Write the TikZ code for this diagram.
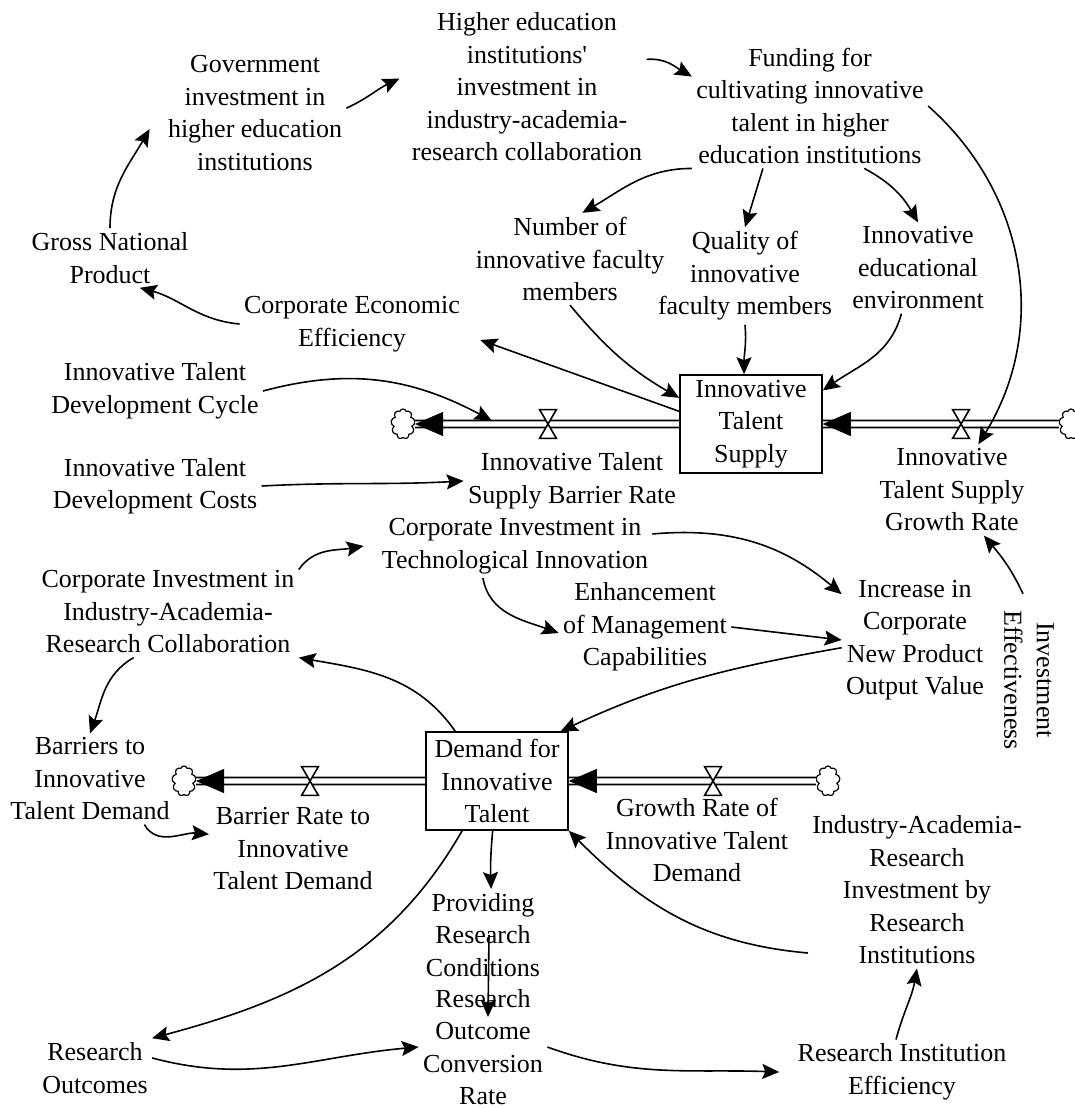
\documentclass[tikz,border=0pt]{standalone}
\usepackage{fontspec}
\setmainfont{Liberation Serif}
\usetikzlibrary{arrows.meta,shapes.symbols}

\begin{document}
\begin{tikzpicture}[x=0.5pt,y=0.5pt,
	font=\fontsize{13}{16.25}\selectfont,
	var/.style={align=center,inner sep=2pt},
	stock/.style={draw,line width=0.8pt,align=center,minimum width=71pt,minimum height=49pt,inner sep=2pt},
	sink/.style={cloud,cloud puffs=9,aspect=0.8,draw,line width=0.6pt,minimum width=12pt,minimum height=15pt,inner sep=0pt},
	valve/.style={inner sep=0pt,minimum width=8pt,minimum height=14pt},
	bowtie/.style={draw,fill=white,line width=0.8pt},
	link/.style={-{Stealth[length=8.5pt,width=7.5pt,inset=1.5pt]},line width=0.8pt},
	pipe/.style={double,double distance=2.6pt,line width=0.85pt},
	flowhead/.style={-{Triangle[length=14pt,width=12pt,color=black]},white,line width=0.4pt}]
	\useasboundingbox (0,0) rectangle (1075,-1108);

	\node[var] (hei) at (527,-87) {Higher education\\institutions\textquotesingle\\investment in\\industry-academia-\\research collaboration};
	\node[var] (gov) at (255,-113) {Government\\investment in\\higher education\\institutions};
	\node[var] (fund) at (810,-106) {Funding for\\cultivating innovative\\talent in higher\\education institutions};
	\node[var] (gnp) at (110,-258) {Gross National\\Product};
	\node[var] (num) at (570,-259) {Number of\\innovative faculty\\members};
	\node[var] (qual) at (745,-276) {Quality of\\innovative\\faculty members};
	\node[var] (env) at (918,-268) {Innovative\\educational\\environment};
	\node[var] (cee) at (352,-324) {Corporate Economic\\Efficiency};
	\node[var] (cycle) at (155,-391) {Innovative Talent\\Development Cycle};
	\node[var] (costs) at (155,-486) {Innovative Talent\\Development Costs};
	\node[stock] (supply) at (751,-424) {Innovative\\Talent\\Supply};
	\node[sink] (cldA) at (403,-424) {};
	\node[sink] (cldB) at (1071,-424) {};
	\node[valve] (vA) at (548,-424) {};
	\node[valve] (vB) at (961,-424) {};
	\node[var] (sbr) at (572,-481) {Innovative Talent\\Supply Barrier Rate};
	\node[var] (sgr) at (952,-490) {Innovative\\Talent Supply\\Growth Rate};
	\node[var] (cit) at (515,-546) {Corporate Investment in\\Technological Innovation};
	\node[var] (ciar) at (168,-612) {Corporate Investment in\\Industry-Academia-\\Research Collaboration};
	\node[var] (mgmt) at (645,-627) {Enhancement\\of Management\\Capabilities};
	\node[var] (npov) at (915,-640) {Increase in\\Corporate\\New Product\\Output Value};
	\node[var,rotate=-90] (ieff) at (1029,-680) {Investment\\Effectiveness};
	\node[var] (bar) at (90,-779) {Barriers to\\Innovative\\Talent Demand};
	\node[stock] (demand) at (497,-781) {Demand for\\Innovative\\Talent};
	\node[sink] (cldC) at (184,-781) {};
	\node[sink] (cldD) at (828,-781) {};
	\node[valve] (vC) at (310,-781) {};
	\node[valve] (vD) at (713,-781) {};
	\node[var] (dbr) at (293,-849) {Barrier Rate to\\Innovative\\Talent Demand};
	\node[var] (dgr) at (697,-840) {Growth Rate of\\Innovative Talent\\Demand};
	\node[var] (rinv) at (917,-890) {Industry-Academia-\\Research\\Investment by\\Research\\Institutions};
	\node[var] (cond) at (483,-935) {Providing\\Research\\Conditions};
	\node[var] (conv) at (483,-1047) {Research\\Outcome\\Conversion\\Rate};
	\node[var] (rout) at (95,-1068) {Research\\Outcomes};
	\node[var] (reff) at (902,-1072) {Research Institution\\Efficiency};

	% flows
	\draw[pipe] (supply) -- (cldA);
	\draw[flowhead] (vA) -- (cldA);
	\draw[pipe] (cldB) -- (supply);
	\draw[flowhead] (vB) -- (supply);
	\draw[pipe] (demand) -- (cldC);
	\draw[flowhead] (vC) -- (cldC);
	\draw[pipe] (cldD) -- (demand);
	\draw[flowhead] (vD) -- (demand);
	\draw[bowtie] (vA.north west) -- (vA.north east) -- (vA.south west) -- (vA.south east) -- cycle;
	\draw[bowtie] (vB.north west) -- (vB.north east) -- (vB.south west) -- (vB.south east) -- cycle;
	\draw[bowtie] (vC.north west) -- (vC.north east) -- (vC.south west) -- (vC.south east) -- cycle;
	\draw[bowtie] (vD.north west) -- (vD.north east) -- (vD.south west) -- (vD.south east) -- cycle;

	% links
	\draw[link] (gnp.north) to[out=90,in=240] ([xshift=-7pt]gov.190);
	\draw[link] (gov.3) to[out=25,in=205] ([xshift=-4pt]hei.176);
	\draw[link] (hei.13) to[out=5,in=150] (fund.166);
	\draw[link] (fund.south west) to[out=180,in=30] (num.75);
	\draw[link] (fund.233) -- (qual.north);
	\draw[link] (fund.311) to[out=-28,in=120] (env.north);
	\draw[link] (fund.east) to[bend left=40] (sgr.60);
	\draw[link] (num.south) to[out=-50,in=150] (supply.160);
	\draw[link] (qual.south) to[out=-85,in=90] (supply.98);
	\draw[link] (env.250) to[out=-105,in=35] (supply.25);
	\draw[link] (supply.170) -- ([shift={(8pt,-8pt)}]cee.east);
	\draw[link] (cee.west) to[out=175,in=-15] (gnp.-45);
	\draw[link] (cycle.east) to[out=15,in=152] ([shift={(14pt,14pt)}]sbr.north west);
	\draw[link] (costs.east) to[out=3,in=183] (sbr.west);
	\draw[link] (ciar.18) to[out=55,in=190] ([xshift=-7pt]cit.west);
	\draw[link] (cit.5) to[out=5,in=140] (npov.148);
	\draw[link] (cit.225) to[out=-80,in=160] (mgmt.184);
	\draw[link] (mgmt.east) -- (npov.west);
	\draw[link] (npov.186) to[out=190,in=25] (demand.38);
	\draw[link] ([shift={(-3pt,6pt)}]ieff.west) to[out=115,in=-50] (sgr.-55);
	\draw[link] (demand.130) to[out=125,in=-10] (ciar.south east);
	\draw[link] (ciar.233) to[out=210,in=70] (bar.north);
	\draw[link] (bar.-40) to[out=-60,in=175] (dbr.170);
	\draw[link] (demand.-95) to[out=-95,in=92] (cond.80);
	\draw[link] ([xshift=3pt]cond.center) -- ([shift={(2.5pt,15pt)}]conv.center);
	\draw[link] (demand.-125) to[out=-120,in=15] (rout.north east);
	\draw[link] (rout.10) to[out=-15,in=185] (conv.west);
	\draw[link] (conv.east) to[out=-20,in=178] ([xshift=-7pt]reff.west);
	\draw[link] ([xshift=-3pt]reff.north) to[out=75,in=-100] (rinv.south);
	\draw[link] (rinv.210) to[out=175,in=-45] (demand.south east);
\end{tikzpicture}
\end{document}
